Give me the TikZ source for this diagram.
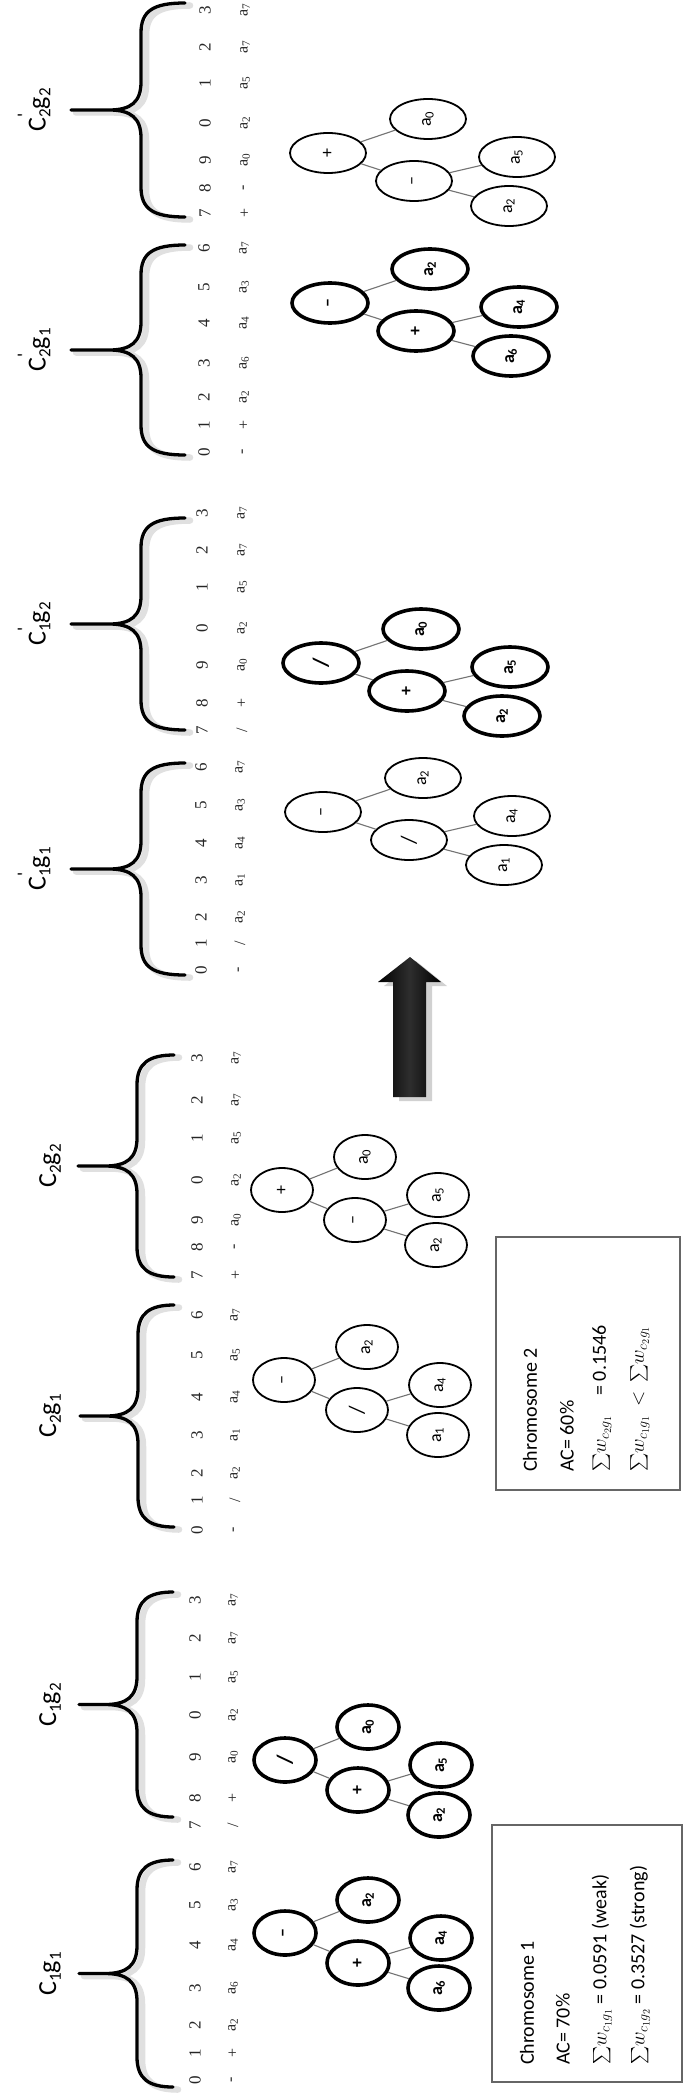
\RequirePackage{fix-cm}
\documentclass[tikz,border=0pt]{standalone}
\usepackage{amsmath}
\usepackage{fontspec}
\setmainfont{Carlito}
\newfontfamily\tnr{Liberation Serif}
\usetikzlibrary{shapes.geometric}
\newcommand{\ga}[1]{a\textsubscript{#1}}
\newcommand{\slsh}{/}
\newcommand{\lsub}[1]{\raisebox{-0.18em}{\fontsize{17}{17}\selectfont #1}}
\newcommand{\lprm}{\rlap{\raisebox{0.58em}{\fontsize{19}{19}\selectfont\textquotesingle}}}
\newcommand{\bigsl}{{\fontsize{22}{22}\selectfont /}}
\newcommand{\bsum}{{\fontsize{19}{19}\selectfont$\sum$}}
\tikzset{
  idx/.style={rotate=90, inner sep=0pt, font=\tnr\fontsize{17}{17}\selectfont, text=black!85},
  gene/.style={rotate=90, inner sep=0pt, font=\tnr\fontsize{16}{16}\selectfont, text=black!85},
  lab/.style={rotate=90, inner sep=0pt, font=\fontsize{26}{26}\selectfont},
  tnu/.style={ellipse, draw, inner sep=0pt, minimum width=62pt, minimum height=44pt, font=\fontsize{18}{18}\selectfont},
  tnp/.style={ellipse, draw, inner sep=0pt, minimum width=76pt, minimum height=40pt, font=\fontsize{18}{18}\selectfont},
  hvy/.style={line width=3.6pt, font=\bfseries\fontsize{18}{18}\selectfont},
  lgt/.style={line width=1.8pt},
  conn/.style={draw=black!55, line width=1.1pt},
  boxt/.style={rotate=90, anchor=west, inner sep=0pt, font=\fontsize{20}{20}\selectfont},
  boxr/.style={draw=black!60, line width=1.5pt},
}
% brace: #1 top y, #2 bottom y, #3 tip x, #4 spine x, #5 end x
\newcommand{\gbrace}[5]{%
  \pgfmathsetmacro\ym{(#1+#2)/2}%
  \foreach \ssx/\ssc/\ssw in {5/black!12/6.5pt, 0/black/3.3pt}{%
    \draw[line width=\ssw, draw=\ssc, line cap=round, line join=round, xshift=\ssx pt, yshift=-\ssx pt/2]
      (#5,#1) .. controls (#4+12,#1) and (#4,#1+8) .. (#4,#1+30)
      -- (#4,\ym-28) .. controls (#4,\ym-8) and (#4-10,\ym) .. (#4-32,\ym)
      -- (#3,\ym) -- (#4-32,\ym)
      .. controls (#4-10,\ym) and (#4,\ym+8) .. (#4,\ym+28)
      -- (#4,#2-30) .. controls (#4,#2-8) and (#4+12,#2) .. (#5,#2);
  }}
% token rows: #1 index x, #2 gene x, #3 list y/index/gene
\newcommand{\grow}[3]{%
  \foreach \yy/\ii/\gg in {#3}{%
    \node[idx] (i\yy) at (#1,\yy) {\ii};
    \node[gene] (g\yy) at (#2,\yy) {\gg};
  }}
\newcommand{\treeU}[9]{%
  \node[tnu,#4] (#1r) at (#2,#3) {\rotatebox{90}{#5}};
  \node[tnu,#4] (#1l) at (#2+83,#3-33) {\rotatebox{90}{#6}};
  \node[tnu,#4] (#1o) at (#2+73,#3+30) {\rotatebox{90}{#7}};
  \node[tnu,#4] (#1u) at (#2+156,#3+5) {\rotatebox{90}{#8}};
  \node[tnu,#4] (#1w) at (#2+154,#3+55) {\rotatebox{90}{#9}};
  \draw[conn] (#1r) -- (#1l);
  \draw[conn] (#1r) -- (#1o);
  \draw[conn] (#1o) -- (#1u);
  \draw[conn] (#1o) -- (#1w);
}
\newcommand{\treeP}[9]{%
  \node[tnp,#4] (#1r) at (#2,#3) {\rotatebox{90}{#5}};
  \node[tnp,#4] (#1l) at (#2+100,#3-34) {\rotatebox{90}{#6}};
  \node[tnp,#4] (#1o) at (#2+86,#3+28) {\rotatebox{90}{#7}};
  \node[tnp,#4] (#1u) at (#2+189,#3+4) {\rotatebox{90}{#8}};
  \node[tnp,#4] (#1w) at (#2+181,#3+53) {\rotatebox{90}{#9}};
  \draw[conn] (#1r) -- (#1l);
  \draw[conn] (#1r) -- (#1o);
  \draw[conn] (#1o) -- (#1u);
  \draw[conn] (#1o) -- (#1w);
}
\begin{document}
\begin{tikzpicture}[x=1pt, y=-1pt]
\fill[white] (0,0) rectangle (685,2095);
\useasboundingbox (0,0) rectangle (685,2095);

% braces
\gbrace{1860}{2087}{79}{137}{173}
\gbrace{1592}{1817}{79}{137}{173}
\gbrace{1305}{1527}{80}{138}{174}
\gbrace{1055}{1277}{78}{137}{174}
\gbrace{763}{975}{71}{141}{185}
\gbrace{518}{730}{71}{141}{185}
\gbrace{245}{455}{71}{141}{185}
\gbrace{3}{217}{71}{141}{185}

% labels
\node[lab] (lc1g1) at (50,1974) {C\lsub{1}g\lsub{1}};
\node[lab] (lc1g2) at (50,1705) {C\lsub{1}g\lsub{2}};
\node[lab] (lc2g1) at (50,1416) {C\lsub{2}g\lsub{1}};
\node[lab] (lc2g2) at (50,1166) {C\lsub{2}g\lsub{2}};
\node[lab] (lp1g1) at (34,869) {C\lprm\lsub{1}g\lsub{1}};
\node[lab] (lp1g2) at (34,624) {C\lprm\lsub{1}g\lsub{2}};
\node[lab] (lp2g1) at (34,350) {C\lprm\lsub{2}g\lsub{1}};
\node[lab] (lp2g2) at (34,110) {C\lprm\lsub{2}g\lsub{2}};

% index and gene rows
\grow{195}{233}{2080/0/-, 2053/1/+, 2025/2/\ga{2}, 1988/3/\ga{6}, 1945/4/\ga{4}, 1905/5/\ga{3}, 1867/6/\ga{7}}
\grow{195}{233}{1825/7/\slsh, 1798/8/+, 1757/9/\ga{0}, 1715/0/\ga{2}, 1677/1/\ga{5}, 1638/2/\ga{7}, 1600/3/\ga{7}}
\grow{197}{235}{1530/0/-, 1500/1/\slsh, 1473/2/\ga{2}, 1435/3/\ga{1}, 1397/4/\ga{4}, 1355/5/\ga{5}, 1315/6/\ga{7}}
\grow{197}{236}{1275/7/+, 1247/8/-, 1220/9/\ga{0}, 1180/0/\ga{2}, 1138/1/\ga{5}, 1100/2/\ga{7}, 1058/3/\ga{7}}
\grow{201}{240}{970/0/-, 943/1/\slsh, 917/2/\ga{2}, 880/3/\ga{1}, 843/4/\ga{4}, 805/5/\ga{3}, 767/6/\ga{7}}
\grow{202}{242}{730/7/\slsh, 703/8/+, 665/9/\ga{0}, 628/0/\ga{2}, 587/1/\ga{5}, 550/2/\ga{7}, 513/3/\ga{7}}
\grow{204}{244}{452/0/-, 425/1/+, 397/2/\ga{2}, 363/3/\ga{6}, 323/4/\ga{4}, 287/5/\ga{3}, 248/6/\ga{7}}
\grow{205}{245}{213/7/+, 188/8/-, 160/9/\ga{0}, 123/0/\ga{2}, 83/1/\ga{5}, 47/2/\ga{7}, 10/3/\ga{7}}

% trees
\treeU{ta}{285}{1933}{hvy}{--}{\ga{2}}{+}{\ga{4}}{\ga{6}}
\treeU{tb}{285}{1760}{hvy}{\bigsl}{\ga{0}}{+}{\ga{5}}{\ga{2}}
\treeU{tc}{284}{1380}{lgt}{--}{\ga{2}}{\bigsl}{\ga{4}}{\ga{1}}
\treeU{td}{282}{1190}{lgt}{+}{\ga{0}}{--}{\ga{5}}{\ga{2}}
\treeP{te}{323}{812}{lgt}{--}{\ga{2}}{\bigsl}{\ga{4}}{\ga{1}}
\treeP{tf}{321}{663}{hvy}{\bigsl}{\ga{0}}{+}{\ga{5}}{\ga{2}}
\treeP{tg}{330}{303}{hvy}{--}{\ga{2}}{+}{\ga{4}}{\ga{6}}
\treeP{th}{328}{153}{lgt}{+}{\ga{0}}{--}{\ga{5}}{\ga{2}}

% boxes
\draw[boxr] (492,1825) rectangle (682,2082);
\node[boxt] (b1a) at (527,2065) {Chromosome 1};
\node[boxt] (b1b) at (563,2065) {AC= 70\%};
\node[boxt] (b1c) at (602,2065) {\bsum$w_{c_1g_1}$ = 0.0591 (weak)};
\node[boxt] (b1d) at (640,2065) {\bsum$w_{c_1g_2}$ = 0.3527 (strong)};

\draw[boxr] (496,1237) rectangle (680,1490);
\node[boxt] (b2a) at (530,1472) {Chromosome 2};
\node[boxt] (b2b) at (567,1472) {AC= 60\%};
\node[boxt] (b2c) at (602,1472) {\bsum$w_{c_2g_1}$\quad = 0.1546};
\node[boxt] (b2d) at (640,1472) {\bsum$w_{c_1g_1}$\ \ $<$\ \ \bsum$w_{c_2g_1}$};

% arrow
\fill[black!18] (399,1101) -- (399,986) -- (384,986) -- (416,961) -- (447,986) -- (432,986) -- (432,1101) -- cycle;
\shade[left color=black, right color=black, middle color=black!82] (393,1097) -- (393,982) -- (378,982) -- (410,957) -- (441,982) -- (426,982) -- (426,1097) -- cycle;
\end{tikzpicture}
\end{document}
